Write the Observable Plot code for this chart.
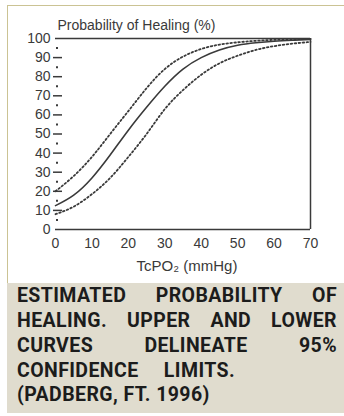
<!DOCTYPE html>
<html>
<head>
<meta charset="utf-8">
<script src="https://cdn.jsdelivr.net/npm/d3@7"></script>
<script src="https://cdn.jsdelivr.net/npm/@observablehq/plot@0.6"></script>
<style>
  html, body { margin: 0; padding: 0; background: #fff; }
  body { width: 344px; height: 416px; position: relative; overflow: hidden; }
  #frame { position: absolute; left: 7px; top: 5px; width: 337px; height: 278px;
           border-top: 1.5px solid #cbc394; border-left: 1.5px solid #cbc394; box-sizing: border-box; }
  #chart { position: absolute; left: 0; top: 0; }
  #caption { position: absolute; left: 7px; top: 283px; width: 337px; height: 130px; background: #e0dcce; }
  .ln { position: absolute; left: 10px; font-family: Roboto, sans-serif; font-weight: 700;
        font-size: 19.5px; letter-spacing: 0.4px; color: #1c1c1c; line-height: 20px; white-space: nowrap; }
  .j { text-align: justify; text-align-last: justify; white-space: normal; }
</style>
</head>
<body>
<div id="frame"></div>
<div id="chart"></div>
<div id="caption"></div>
<script>
// Data
const tcpo2 = [0, 5, 10, 15, 20, 25, 30, 35, 40, 45, 50, 55, 60, 65, 70];
const estimate = [12.5, 18, 27, 39, 52, 64, 75, 84, 90, 94, 96.5, 97.8, 98.6, 99.1, 99.5];
const upperCL = [20, 28, 38, 50, 62, 74, 84, 90.5, 94.5, 96.8, 98, 98.8, 99.3, 99.6, 99.8];
const lowerCL = [8, 12, 18.5, 27, 38, 50, 63, 73, 81, 87, 91, 94, 96, 97.3, 98.2];
const xTicks = [0, 10, 20, 30, 40, 50, 60, 70];
const yTicks = [0, 10, 20, 30, 40, 50, 60, 70, 80, 90, 100];
const yMinor = [5, 15, 25, 35, 45, 55, 65, 75, 85, 95];
const chartTitle = "Probability of Healing (%)";
const xTitle = "TcPO\u2082 (mmHg)";
const captionLines = [
  "ESTIMATED PROBABILITY OF",
  "HEALING. UPPER AND LOWER",
  "CURVES DELINEATE 95%",
  "CONFIDENCE LIMITS.",
  "(PADBERG, FT. 1996)"
];

const toRows = vals => tcpo2.map((x, i) => ({x, y: vals[i]}));
const ink = "#3a3a3a";

const chart = Plot.plot({
  width: 344,
  height: 283,
  marginLeft: 55,
  marginRight: 34,
  marginTop: 38,
  marginBottom: 54,
  style: {fontFamily: "'Liberation Sans', Arial, sans-serif", fontSize: "14px", color: ink, background: "transparent"},
  x: {domain: [0, 70]},
  y: {domain: [0, 100]},
  marks: [
    Plot.axisY(yTicks, {tickSize: 0, tickPadding: 5, label: null, fontSize: 14}),
    Plot.axisY(yTicks.filter(v => v > 0 && v < 100), {tickSize: 9, dx: 7, fill: "none", label: null, strokeWidth: 1.5}),
    Plot.axisY(yMinor, {tickSize: 2, dx: 3, fill: "none", label: null, strokeWidth: 2}),
    Plot.axisX(xTicks, {tickSize: 0, tickPadding: 9, label: null, fontSize: 14}),
    Plot.ruleY([0, 100], {stroke: ink, strokeWidth: 1.5}),
    Plot.ruleX([70], {stroke: ink, strokeWidth: 1.5}),
    Plot.line(toRows(upperCL), {x: "x", y: "y", stroke: ink, strokeWidth: 1.8, strokeDasharray: "1.6,2.4", curve: "natural"}),
    Plot.line(toRows(lowerCL), {x: "x", y: "y", stroke: ink, strokeWidth: 1.8, strokeDasharray: "1.6,2.4", curve: "natural"}),
    Plot.line(toRows(estimate), {x: "x", y: "y", stroke: ink, strokeWidth: 1.6, curve: "natural"}),
    Plot.text([chartTitle], {frameAnchor: "top-left", textAnchor: "start", dx: 2, dy: -18, fontSize: 14, fill: ink, letterSpacing: "0.4px"}),
    Plot.text([xTitle], {frameAnchor: "bottom", dx: 4, dy: 41, fontSize: 15, fill: ink})
  ]
});
document.getElementById("chart").appendChild(chart);

const cap = document.getElementById("caption");
const tops = [3, 28, 53, 78, 102];
const widths = [320, 320, 320, 218, null];
captionLines.forEach((t, i) => {
  const d = document.createElement("div");
  d.className = "ln" + (widths[i] ? " j" : "");
  d.style.top = tops[i] + "px";
  if (widths[i]) d.style.width = widths[i] + "px";
  d.textContent = t;
  cap.appendChild(d);
});
</script>
</body>
</html>
